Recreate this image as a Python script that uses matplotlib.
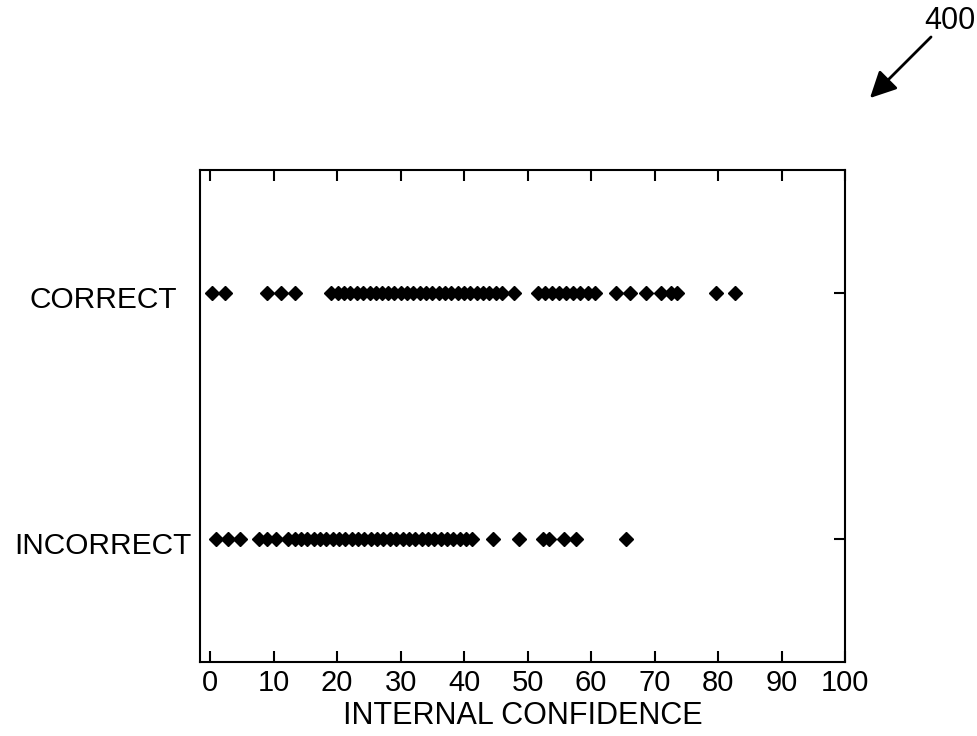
import matplotlib
matplotlib.use("Agg")
import matplotlib.pyplot as plt
from matplotlib.transforms import ScaledTranslation

# Values
correct = [0.3, 2.3, 8.9, 11.1, 13.3,
           19.1, 20.1, 21.1, 22.1, 23.1, 24.1, 25.1, 26.1, 27.0, 28.0,
           29.0, 30.0, 31.0, 32.0, 33.0, 34.0, 35.0, 36.0, 37.0, 38.0,
           39.0, 40.0, 41.0, 42.0, 43.0, 44.0, 45.0, 45.9,
           47.9,
           51.6, 52.7, 53.8, 55.0, 56.1, 57.2, 58.3, 59.5, 60.6,
           63.9, 66.2, 68.6, 71.0, 72.6, 73.6, 79.7, 82.6]
incorrect = [0.9, 2.8, 4.7, 7.7, 9.0, 10.3,
             12.3, 13.3, 14.3, 15.3, 16.3, 17.3, 18.3, 19.3, 20.3, 21.3,
             22.3, 23.3, 24.3, 25.3, 26.3, 27.3, 28.3, 29.3, 30.3, 31.3,
             32.3, 33.3, 34.3, 35.3, 36.3, 37.3, 38.3, 39.3, 40.3, 41.3,
             44.6, 48.7, 52.5, 53.3, 55.7, 57.6, 65.5]
row_labels = ["CORRECT", "INCORRECT"]
row_pos = [2, 1]
x_ticks = [0, 10, 20, 30, 40, 50, 60, 70, 80, 90, 100]

plt.rcParams['font.family'] = ['Liberation Sans', 'DejaVu Sans']

fig = plt.figure(figsize=(9.78, 7.36), dpi=100)
ax = fig.add_axes([0.2045, 0.1005, 0.6595, 0.6685])

ax.plot(correct, [row_pos[0]] * len(correct), linestyle='none', marker='D',
        markersize=7.2, color='black')
ax.plot(incorrect, [row_pos[1]] * len(incorrect), linestyle='none', marker='D',
        markersize=7.2, color='black')

ax.set_xlim(-1.6, 100)
ax.set_ylim(0.5, 2.5)
ax.set_xticks(x_ticks)
ax.set_xticklabels([str(t) for t in x_ticks], fontsize=21)
ax.set_yticks(row_pos)
ax.set_yticklabels(row_labels, fontsize=21.5, ha='center')
ax.tick_params(axis='x', direction='in', top=True, length=8, width=1.5, pad=5)
ax.tick_params(axis='y', direction='in', left=False, right=True, length=8,
               width=1.5, pad=70)
# labels sit a little below the rows in the reference
for lab in ax.get_yticklabels():
    lab.set_transform(lab.get_transform() +
                      ScaledTranslation(0, -3 / 72, fig.dpi_scale_trans))
for s in ax.spines.values():
    s.set_linewidth(1.5)
ax.set_xlabel("INTERNAL CONFIDENCE", fontsize=22, labelpad=3)

# reference numeral with arrow
fig.text(950 / 978, 1 - 21 / 736, "400", fontsize=22, ha='center', va='center')
ax.annotate("", xy=(868 / 978, 1 - 100 / 736), xycoords='figure fraction',
            xytext=(933 / 978, 1 - 35 / 736), textcoords='figure fraction',
            arrowprops=dict(arrowstyle='-|>', mutation_scale=40, lw=2,
                            color='black'))

fig.savefig("out.png", dpi=100)
